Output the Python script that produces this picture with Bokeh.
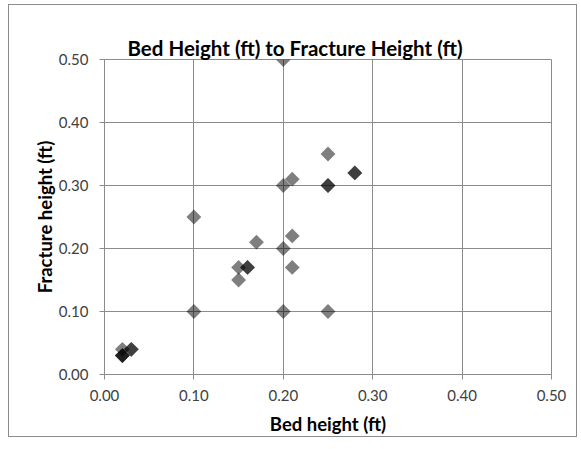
from bokeh.plotting import figure
from bokeh.models import (ColumnDataSource, FixedTicker, NumeralTickFormatter,
                          Range1d, LinearAxis)
from bokeh.embed import file_html
from bokeh.resources import INLINE

# Bed height vs fracture height measurements (ft); repeated rows overlap
bed_height = [0.02, 0.02, 0.02, 0.02, 0.03, 0.03,
              0.10, 0.10,
              0.15, 0.15, 0.16, 0.16,
              0.17,
              0.20, 0.20, 0.20, 0.20,
              0.21, 0.21, 0.21,
              0.25, 0.25, 0.25, 0.25,
              0.28, 0.28]
fracture_height = [0.04, 0.03, 0.03, 0.03, 0.04, 0.04,
                   0.25, 0.10,
                   0.17, 0.15, 0.17, 0.17,
                   0.21,
                   0.50, 0.30, 0.20, 0.10,
                   0.31, 0.22, 0.17,
                   0.35, 0.30, 0.30, 0.10,
                   0.32, 0.32]
ticks = [0.0, 0.1, 0.2, 0.3, 0.4, 0.5]

src = ColumnDataSource(dict(x=bed_height, y=fracture_height))

FONT = "Lato"
GRID = "#8c8c8c"

p = figure(width=569, height=433, output_backend="svg", toolbar_location=None,
           x_range=Range1d(0, 0.5), y_range=Range1d(0, 0.5),
           min_border_left=95, min_border_right=27,
           min_border_top=54, min_border_bottom=64,
           title="Bed Height (ft) to Fracture Height (ft)",
           styles={"margin-left": "8px", "margin-top": "4px",
                   "border": "1px solid " + GRID})

x_axis = p.below[0]
y_axis = p.left[0]

p.title.align = "left"
p.title.offset = 23
p.title.standoff = 0
p.title.text_font = FONT
p.title.text_font_size = "20.5px"
p.title.text_font_style = "bold"
p.title.text_color = "#000000"

p.outline_line_color = GRID
p.outline_line_width = 1

for ax in (x_axis, y_axis):
    ax.ticker = FixedTicker(ticks=ticks)
    ax.formatter = NumeralTickFormatter(format="0.00")
    ax.axis_line_color = GRID
    ax.major_tick_line_color = GRID
    ax.major_tick_in = 0
    ax.major_tick_out = 5
    ax.minor_tick_line_color = None
    ax.major_label_text_font = FONT
    ax.major_label_text_font_size = "15px"
    ax.major_label_text_color = "#404040"
    ax.axis_label_text_font = FONT
    ax.axis_label_text_font_size = "18.5px"
    ax.axis_label_text_font_style = "bold"
    ax.axis_label_text_color = "#000000"

x_axis.axis_label = "Bed height (ft)"
y_axis.axis_label = "Fracture height (ft)"
x_axis.major_label_standoff = 10
y_axis.major_label_standoff = 11
x_axis.axis_label_standoff = 9
y_axis.axis_label_standoff = 0

# blank axis above the frame: leaves a gap between the frame and the title
gap = LinearAxis(ticker=FixedTicker(ticks=[]), axis_line_color=None,
                 major_tick_line_color=None, minor_tick_line_color=None,
                 major_tick_in=0, major_tick_out=20, minor_tick_out=0,
                 major_label_standoff=0)
p.add_layout(gap, "above")

p.xgrid.ticker = FixedTicker(ticks=ticks)
p.ygrid.ticker = FixedTicker(ticks=ticks)
p.xgrid.grid_line_color = GRID
p.ygrid.grid_line_color = GRID

p.scatter("x", "y", source=src, marker="square", angle=0.7853981634,
          size=10.5, fill_color="#000000", fill_alpha=0.5, line_color=None)

open("out.html", "w").write(file_html(p, INLINE))
